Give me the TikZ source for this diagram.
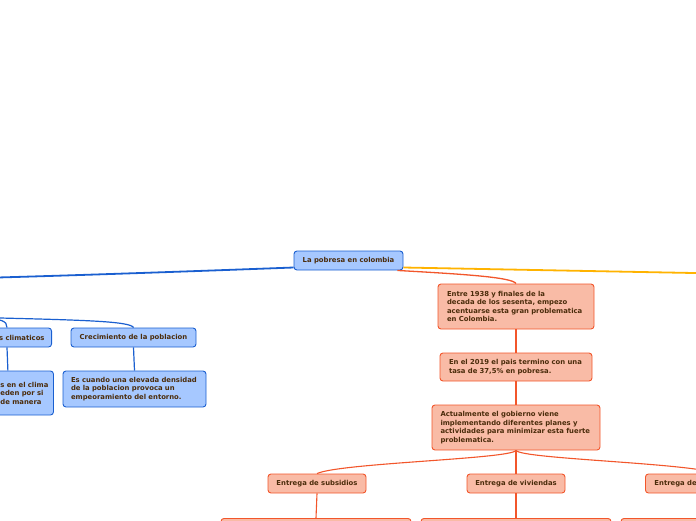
\documentclass[tikz,border=0pt]{standalone}
\usepackage{fontspec}
\setmainfont{DejaVu Sans}
\definecolor{bluefill}{HTML}{A6C8FF}
\definecolor{blueline}{HTML}{1A5FD0}
\definecolor{salfill}{HTML}{F9BBA6}
\definecolor{salline}{HTML}{F2562B}
\definecolor{yel}{HTML}{FFB300}
\definecolor{txt}{HTML}{4B2C0B}
\tikzset{
  x=1pt, y=-1pt,
  box/.style={draw, rounded corners=3pt, line width=0.9pt, text=txt,
    font=\fontsize{6.85}{8.5}\selectfont\bfseries, inner ysep=2pt},
  bluebox/.style={box, draw=blueline, fill=bluefill},
  salbox/.style={box, draw=salline, fill=salfill},
  blink/.style={draw=blueline, line width=1.2pt},
  slink/.style={draw=salline, line width=1.1pt},
}
\begin{document}
\begin{tikzpicture}
\useasboundingbox (0,0) rectangle (696,520);
\clip (0,0) rectangle (696,520);
% root
\node[bluebox, minimum width=109pt, minimum height=19pt] (root) at (348.5,260.5) {La pobresa en colombia};
% left blue branch
\coordinate (farL) at (-40,278.5);
\coordinate (hubL) at (-20,317.5);
\node[bluebox, anchor=east, text width=60pt, align=right, inner xsep=7pt, minimum height=19pt] (clim) at (52,337.5) {s climaticos};
\node[bluebox, anchor=west, text width=44pt, align=left, inner xsep=9pt, minimum height=44pt] (climd) at (-9,393) {\mbox{s en el clima}\\\mbox{eden por si}\\\mbox{de manera}};
\node[bluebox, minimum width=125pt, minimum height=19pt] (crec) at (133.5,337.5) {Crecimiento de la poblacion};
\node[bluebox, text width=127pt, align=left, inner xsep=8pt, minimum height=36pt] (crecd) at (134.5,389) {\mbox{Es cuando una elevada densidad}\\\mbox{de la poblacion provoca un}\\\mbox{empeoramiento del entorno.}};
% orange branch
\node[salbox, text width=138pt, align=left, inner xsep=9pt, minimum height=45pt] (entre) at (516,306.5) {\mbox{Entre 1938 y finales de la}\\\mbox{decada de los sesenta, empezo}\\\mbox{acentuarse esta gran problematica}\\\mbox{en Colombia.}};
\node[salbox, text width=134pt, align=left, inner xsep=9pt, minimum height=28pt] (d2019) at (516,367) {\mbox{En el 2019 el pais termino con una}\\\mbox{tasa de 37,5\% en pobresa.}};
\node[salbox, text width=151pt, align=left, inner xsep=8.5pt, minimum height=45pt] (actual) at (516,427.5) {\mbox{Actualmente el gobierno viene}\\\mbox{implementando diferentes planes y}\\\mbox{actividades para minimizar esta fuerte}\\\mbox{problematica.}};
\node[salbox, minimum width=98pt, minimum height=19pt] (subs) at (317,483.5) {Entrega de subsidios};
\node[salbox, minimum width=98pt, minimum height=19pt] (viv) at (516,483.5) {Entrega de viviendas};
\node[salbox, anchor=west, text width=124pt, align=left, inner xsep=9pt, minimum height=19pt] (entR) at (645,483.5) {Entrega de};
\node[salbox, minimum width=190pt, minimum height=30pt, anchor=north] (b1) at (316,518) {};
\node[salbox, minimum width=190pt, minimum height=30pt, anchor=north] (b2) at (516,518) {};
\node[salbox, minimum width=190pt, minimum height=30pt, anchor=north] (b3) at (716,518) {};
\coordinate (farR) at (720,273.5);
% connectors
\draw[draw=blueline, line width=1.8pt] ([yshift=-7pt]root.west) .. controls (200,271) and (60,276) .. (farL);
\draw[blink] (hubL) .. controls (80,320) and (130,321) .. (crec.north);
\draw[blink] (hubL) .. controls (2,319) and (7,321) .. ([xshift=-45pt]clim.north east);
\draw[blink] ([xshift=-45pt]clim.south east) -- ([xshift=-46pt]climd.north east);
\draw[blink] (crec.south) -- (crecd.north);
\draw[draw=yel, line width=1.8pt] ([yshift=-7pt]root.east) -- (farR);
\draw[draw=salline, line width=1.3pt] ([xshift=-6pt]root.south east) .. controls (460,274) and (512,277) .. (entre.north);
\draw[slink] (entre.south) -- (d2019.north);
\draw[slink] (d2019.south) -- (actual.north);
\draw[slink] (actual.south) .. controls (510,459) and (340,463) .. (subs.north);
\draw[slink] (actual.south) -- (viv.north);
\draw[slink] (actual.south) .. controls (522,459) and (690,463) .. ([xshift=-71pt]entR.north east);
\draw[slink] (subs.south) -- (b1.north);
\draw[slink] (viv.south) -- (b2.north);
\draw[slink] ([xshift=-71pt]entR.south east) -- (b3.north);
\end{tikzpicture}
\end{document}
